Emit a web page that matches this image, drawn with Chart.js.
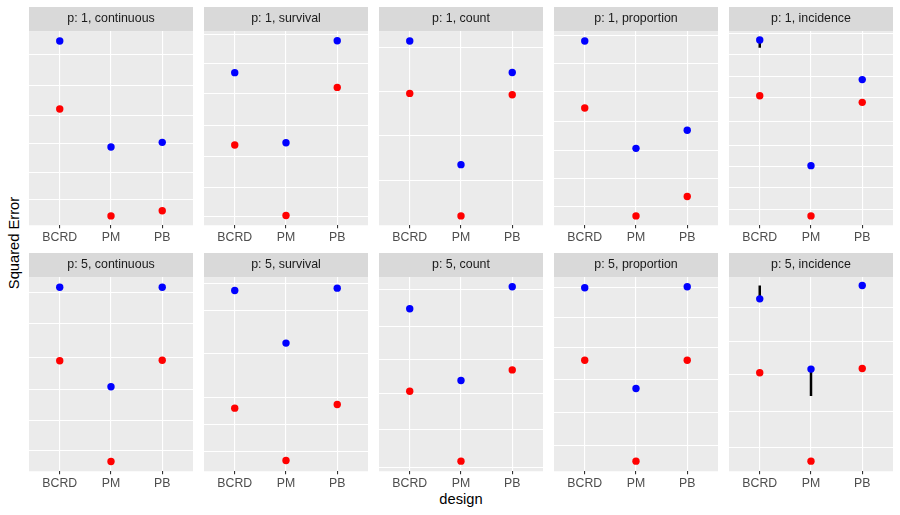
<!DOCTYPE html>
<html>
<head>
<meta charset="utf-8">
<script src="https://cdn.jsdelivr.net/npm/chart.js@4"></script>
<style>
  body { margin: 0; background: #ffffff; }
  #wrap { position: relative; width: 900px; height: 515px; font-family: "Liberation Sans", Arial, sans-serif; }
  #wrap canvas { position: absolute; }
  .axis-title { position: absolute; font-size: 14.7px; color: #000000; white-space: nowrap; }
  #ytitle { left: 14px; top: 243px; transform: translate(-50%, -50%) rotate(-90deg); }
  #xtitle { left: 461px; top: 499px; transform: translate(-50%, -50%); }
</style>
</head>
<body>
<div id="wrap">
  <div id="ytitle" class="axis-title">Squared Error</div>
  <div id="xtitle" class="axis-title">design</div>
</div>
<script>
// facets, read left-to-right, top row then bottom row
const designs = ["BCRD", "PM", "PB"];
const panelTitles = [
  "p: 1, continuous", "p: 1, survival", "p: 1, count", "p: 1, proportion", "p: 1, incidence",
  "p: 5, continuous", "p: 5, survival", "p: 5, count", "p: 5, proportion", "p: 5, incidence",
];

// values as % of each panel's (free) y range, one triple per panel: BCRD, PM, PB
const blueValues = [
  [94.9, 40.3, 42.7], [78.6, 42.5, 95.0], [94.9, 31.2, 78.7], [94.9, 39.6, 48.9], [95.4, 30.7, 75.0],
  [94.8, 43.5, 94.8], [93.1, 66.0, 94.3], [83.7, 46.7, 95.0], [94.5, 42.6, 95.0], [88.8, 52.6, 95.7],
];
const redValues = [
  [59.9, 4.8, 7.5], [41.3, 5.0, 71.0], [67.9, 4.8, 67.2], [60.4, 4.8, 14.8], [66.7, 4.8, 63.3],
  [56.9, 5.0, 57.2], [32.5, 5.5, 34.4], [41.2, 5.2, 52.2], [57.2, 5.2, 57.2], [50.7, 5.2, 52.9],
];

// horizontal grid breaks per panel (same units)
const gridBreaks = [
  [87.7, 71.7, 56.3, 41.9, 27.3, 13.0],
  [98.3, 83.4, 67.9, 51.3, 35.3, 19.4, 4.5],
  [91.6, 69.1, 46.0, 23.2],
  [97.9, 83.4, 68.6, 53.3, 38.3, 23.8, 9.6],
  [98.8, 88.0, 76.5, 65.9, 53.3, 41.3, 30.2, 19.4, 8.2],
  [91.8, 76.0, 58.8, 41.9, 26.3, 10.7],
  [96.9, 82.8, 60.5, 38.1, 24.1, 10.0],
  [93.5, 74.6, 57.4, 40.2, 21.3, 1.7],
  [94.8, 79.4, 63.9, 47.1, 30.1, 13.2],
  [84.2, 67.0, 49.8, 30.9, 12.4],
];

// error bars: panel index, design index, low, high
const errorBars = [
  [4, 0, 91.4, 95.4],
  [9, 0, 88.8, 95.7],
  [9, 1, 38.7, 52.6],
];

const panelLefts = [29, 203.5, 379, 554, 729];
const rowTops = [7, 253];
const panelW = 164;
const panelH = 240;

const panelBg = {
  id: "panelBg",
  beforeDraw(chart) {
    const { ctx, chartArea } = chart;
    ctx.save();
    ctx.fillStyle = "#d9d9d9";
    ctx.fillRect(chartArea.left, 0, chartArea.right - chartArea.left, chartArea.top);
    ctx.fillStyle = "#ebebeb";
    ctx.fillRect(chartArea.left, chartArea.top, chartArea.right - chartArea.left, chartArea.bottom - chartArea.top);
    ctx.restore();
  },
};

const wrap = document.getElementById("wrap");

panelTitles.forEach((title, p) => {
  const canvas = document.createElement("canvas");
  canvas.width = panelW;
  canvas.height = panelH;
  canvas.style.left = panelLefts[p % 5] + "px";
  canvas.style.top = rowTops[Math.floor(p / 5)] + "px";
  canvas.style.width = panelW + "px";
  canvas.style.height = panelH + "px";
  wrap.appendChild(canvas);

  const datasets = [];
  errorBars.filter((e) => e[0] === p).forEach((e) => {
    datasets.push({
      type: "line",
      data: [{ x: e[1] + 1, y: e[2] }, { x: e[1] + 1, y: e[3] }],
      borderColor: "#000000",
      borderWidth: 2.5,
      pointRadius: 0,
      order: 3,
    });
  });
  datasets.push({
    data: redValues[p].map((v, i) => ({ x: i + 1, y: v })),
    backgroundColor: "#ff0000",
    borderWidth: 0,
    pointRadius: 3.7,
    order: 2,
  });
  datasets.push({
    data: blueValues[p].map((v, i) => ({ x: i + 1, y: v })),
    backgroundColor: "#0000ff",
    borderWidth: 0,
    pointRadius: 3.7,
    order: 1,
  });

  new Chart(canvas.getContext("2d"), {
    type: "scatter",
    data: { datasets },
    options: {
      responsive: false,
      animation: false,
      layout: { padding: 0, autoPadding: false },
      plugins: {
        legend: { display: false },
        tooltip: { enabled: false },
        title: {
          display: true,
          text: title,
          color: "#1a1a1a",
          font: { family: "Liberation Sans", size: 12.4, weight: "normal", lineHeight: 1.2 },
          padding: { top: 4.6, bottom: 4.6 },
        },
      },
      scales: {
        x: {
          type: "linear",
          min: 0.4,
          max: 3.6,
          afterBuildTicks: (axis) => {
            axis.ticks = designs.map((d, i) => ({ value: i + 1 }));
          },
          ticks: {
            color: "#4d4d4d",
            font: { family: "Liberation Sans", size: 12.3 },
            padding: 2,
            maxRotation: 0,
            autoSkip: false,
            callback: (v) => designs[v - 1],
          },
          grid: { color: "#ffffff", lineWidth: 1.1, tickColor: "#333333", tickLength: 3 },
          border: { display: false },
        },
        y: {
          min: 0,
          max: 100,
          afterBuildTicks: (axis) => {
            axis.ticks = gridBreaks[p].map((v) => ({ value: v }));
          },
          ticks: { display: false },
          grid: { color: "#ffffff", lineWidth: 1.1, drawTicks: false },
          border: { display: false },
        },
      },
    },
    plugins: [panelBg],
  });
});
</script>
</body>
</html>
